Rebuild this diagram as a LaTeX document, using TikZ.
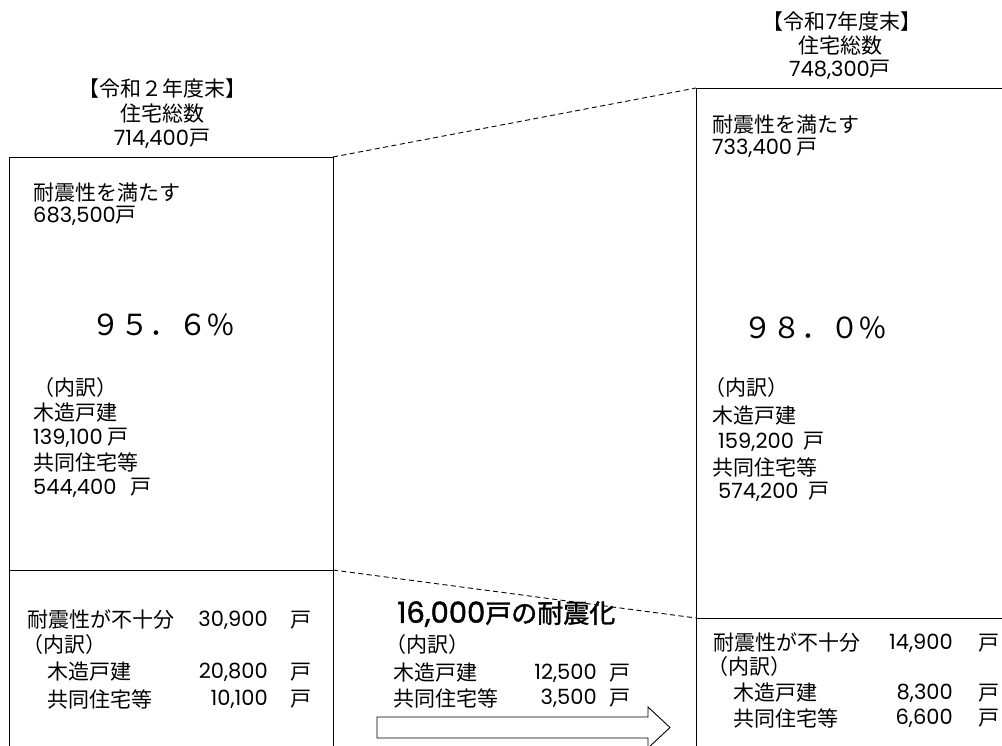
\documentclass[tikz,border=0pt]{standalone}
\usepackage{fontspec}
\setmainfont{Noto Sans CJK JP}
\newfontfamily\digfont{Poppins}
\newfontfamily\headfont[FakeBold=1.5]{Noto Sans CJK JP}
\newfontfamily\headdig[FakeBold=1.5]{Poppins}
\newcommand{\dnum}[1]{{\digfont #1}}

\tikzset{
    lbl/.style={inner sep=0pt, anchor=west, font=\fontsize{21}{24}\selectfont},
    numr/.style={inner sep=0pt, anchor=east, font=\fontsize{21}{24}\selectfont},
    hdr/.style={inner sep=0pt, font=\fontsize{21}{24}\selectfont},
    pct/.style={inner sep=0pt, font=\fontsize{29}{32}\selectfont},
    frame/.style={line width=1pt},
    guide/.style={line width=0.9pt, dash pattern=on 5pt off 3.5pt}
}

\begin{document}
\begin{tikzpicture}[x=1pt, y=-1pt]
    \useasboundingbox (0,0) rectangle (1002,745);
    \clip (0,0) rectangle (1002,745);

    % Frames
    \coordinate (L-tl) at (9,157);
    \coordinate (L-tr) at (333,157);
    \coordinate (L-ml) at (9,570);
    \coordinate (L-mr) at (333,570);
    \coordinate (R-tl) at (696,88);
    \coordinate (R-ml) at (696,618);
    \draw[frame] (9,760) -- (L-tl) -- (L-tr) -- (333,760);
    \draw[frame] (L-ml) -- (L-mr);
    \draw[frame] (696,760) -- (R-tl) -- (1010,88);
    \draw[frame] (R-ml) -- (1010,618);

    % Dashed guides
    \draw[guide] (L-tr) -- (R-tl);
    \draw[guide] (L-mr) -- (R-ml);

    % Block arrow
    \draw[line width=0.9pt, fill=white] (377,717) -- (648,717) -- (648,707) -- (670,727.5)
        -- (648,748) -- (648,738) -- (377,738) -- cycle;

    % Left: R2
    \node[hdr] (hdrL1) at (162,89) {【令和２年度末】};
    \node[hdr] (hdrL2) at (162,114) {住宅総数};
    \node[hdr] (hdrL3) at (162,139) {\dnum{714,400}戸};

    \node[lbl] (satL1) at (33,193) {耐震性を満たす};
    \node[lbl] (satL2) at (33,216) {\dnum{683,500}戸};
    \node[pct] (pctL) at (163,325) {９５．６\%};

    \node[lbl] (brkL) at (33,388) {（内訳）};
    \node[lbl] (woodL) at (33,413) {木造戸建};
    \node[lbl] (woodLn) at (33,438) {\dnum{139,100} 戸};
    \node[lbl] (aptL) at (33,462) {共同住宅等};
    \node[lbl] (aptLn) at (33,488) {\dnum{544,400}\hspace{14pt}戸};

    \node[lbl] (lackL) at (27,620) {耐震性が不十分};
    \node[numr] (lackLn) at (268,620) {\dnum{30,900}};
    \node[lbl] (lackLu) at (290,620) {戸};
    \node[lbl] (brkL2) at (22,645) {（内訳）};
    \node[lbl] (woodL2) at (47,672) {木造戸建};
    \node[numr] (woodL2n) at (268,672) {\dnum{20,800}};
    \node[lbl] (woodL2u) at (290,672) {戸};
    \node[lbl] (aptL2) at (47,699) {共同住宅等};
    \node[numr] (aptL2n) at (268,699) {\dnum{10,100}};
    \node[lbl] (aptL2u) at (290,699) {戸};

    % Middle
    \node[lbl, font=\fontsize{26}{30}\selectfont\headfont] (gain) at (397,614)
        {{\fontsize{29}{30}\selectfont\headdig 16,000}戸の耐震化};
    \node[lbl] (brkM) at (385,645) {（内訳）};
    \node[lbl] (woodM) at (393,673) {木造戸建};
    \node[numr] (woodMn) at (597,673) {\dnum{12,500}};
    \node[lbl] (woodMu) at (609,673) {戸};
    \node[lbl] (aptM) at (393,698) {共同住宅等};
    \node[numr] (aptMn) at (597,698) {\dnum{3,500}};
    \node[lbl] (aptMu) at (609,698) {戸};

    % Right: R7
    \node[hdr] (hdrR1) at (842,22) {【令和\dnum{7}年度末】};
    \node[hdr] (hdrR2) at (840,46) {住宅総数};
    \node[hdr] (hdrR3) at (840,70) {\dnum{748,300}戸};

    \node[lbl] (satR1) at (712,125) {耐震性を満たす};
    \node[lbl] (satR2) at (712,148) {\dnum{733,400} 戸};
    \node[pct] (pctR) at (815,328) {９８．０\%};

    \node[lbl] (brkR) at (704,388) {（内訳）};
    \node[lbl] (woodR) at (712,416) {木造戸建};
    \node[lbl] (woodRn) at (718,442) {\dnum{159,200}\hspace{10pt}戸};
    \node[lbl] (aptR) at (712,467) {共同住宅等};
    \node[lbl] (aptRn) at (718,492) {\dnum{574,200}\hspace{10pt}戸};

    \node[lbl] (lackR) at (713,643) {耐震性が不十分};
    \node[numr] (lackRn) at (953,643) {\dnum{14,900}};
    \node[lbl] (lackRu) at (978,643) {戸};
    \node[lbl] (brkR2) at (707,667) {（内訳）};
    \node[lbl] (woodR2) at (733,693) {木造戸建};
    \node[numr] (woodR2n) at (953,693) {\dnum{8,300}};
    \node[lbl] (woodR2u) at (978,693) {戸};
    \node[lbl] (aptR2) at (733,718) {共同住宅等};
    \node[numr] (aptR2n) at (953,718) {\dnum{6,600}};
    \node[lbl] (aptR2u) at (978,718) {戸};
\end{tikzpicture}
\end{document}
